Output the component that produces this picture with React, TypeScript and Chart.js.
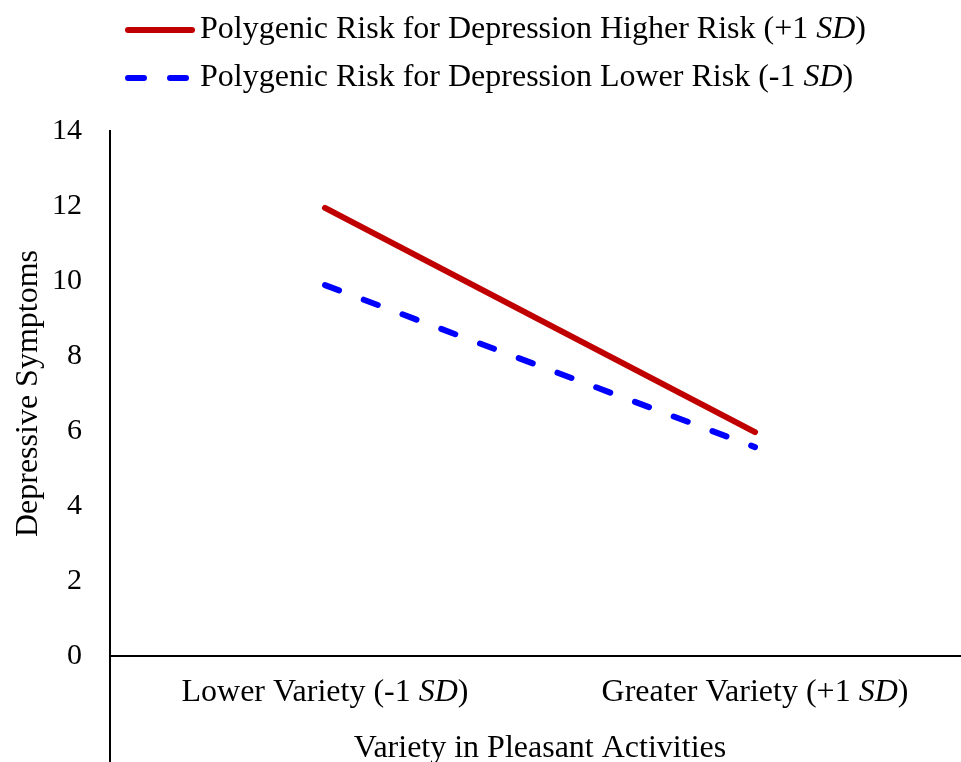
import React, { useEffect, useRef } from "react";
import { Chart, registerables } from "chart.js";

Chart.register(...registerables);

const categories = ["Lower Variety (-1 SD)", "Greater Variety (+1 SD)"];
const higherRisk = [11.95, 5.97];
const lowerRisk = [9.89, 5.57];
const seriesNames = [
  "Polygenic Risk for Depression Higher Risk (+1 SD)",
  "Polygenic Risk for Depression Lower Risk (-1 SD)",
];
const yMin = 0;
const yMax = 14;
const yStep = 2;
const xTitle = "Variety in Pleasant Activities";
const yTitle = "Depressive Symptoms";

const FONT_FAMILY = "'Liberation Serif', 'Times New Roman', serif";
const FONT_SIZE = 32;
const TICK_SIZE = 30;
const RED = "#C00000";
const BLUE = "#0000FF";

function drawRich(ctx: CanvasRenderingContext2D, text: string, x: number, y: number, align: "left" | "center") {
  const parts = text.split(/(SD)/).filter((p) => p.length > 0);
  const fonts = parts.map((p) => (p === "SD" ? `italic ${FONT_SIZE}px ${FONT_FAMILY}` : `${FONT_SIZE}px ${FONT_FAMILY}`));
  let total = 0;
  const widths = parts.map((p, i) => {
    ctx.font = fonts[i];
    const w = ctx.measureText(p).width;
    total += w;
    return w;
  });
  let cx = align === "center" ? x - total / 2 : x;
  ctx.textAlign = "left";
  ctx.textBaseline = "middle";
  ctx.fillStyle = "#000";
  parts.forEach((p, i) => {
    ctx.font = fonts[i];
    ctx.fillText(p, cx, y);
    cx += widths[i];
  });
}

const richPlugin = {
  id: "richText",
  afterDraw(chart: any) {
    const ctx: CanvasRenderingContext2D = chart.ctx;
    const xs = chart.scales.x;
    const area = chart.chartArea;
    ctx.save();
    // y-axis line extension below the horizontal axis
    ctx.strokeStyle = "#000";
    ctx.lineWidth = 2;
    ctx.beginPath();
    ctx.moveTo(area.left, area.bottom);
    ctx.lineTo(area.left, chart.height);
    ctx.stroke();
    // x tick labels with italic SD
    categories.forEach((c, i) => {
      drawRich(ctx, c, xs.getPixelForTick(i), area.bottom + 37, "center");
    });
    // legend
    const ds = chart.data.datasets;
    const rows = [30, 78];
    ds.forEach((d: any, i: number) => {
      const y = rows[i];
      ctx.strokeStyle = d.borderColor;
      ctx.lineWidth = d.borderWidth;
      ctx.lineCap = "round";
      ctx.setLineDash(d.borderDash ? [16, 26] : []);
      ctx.beginPath();
      ctx.moveTo(128, y);
      ctx.lineTo(192, y);
      ctx.stroke();
      ctx.setLineDash([]);
      drawRich(ctx, d.label, 200, y, "left");
    });
    ctx.restore();
  },
};

export default function App() {
  const ref = useRef<HTMLCanvasElement | null>(null);
  useEffect(() => {
    if (!ref.current) return;
    const font = { family: FONT_FAMILY, size: FONT_SIZE };
    const chart = new Chart(ref.current, {
      type: "line",
      data: {
        labels: categories,
        datasets: [
          {
            label: seriesNames[0],
            data: higherRisk,
            borderColor: RED,
            backgroundColor: RED,
            borderWidth: 6,
            borderCapStyle: "round",
            pointRadius: 0,
            tension: 0,
            fill: false,
          },
          {
            label: seriesNames[1],
            data: lowerRisk,
            borderColor: BLUE,
            backgroundColor: BLUE,
            borderWidth: 6,
            borderCapStyle: "round",
            borderDash: [15, 26.4],
            pointRadius: 0,
            tension: 0,
            fill: false,
          },
        ],
      },
      options: {
        responsive: false,
        animation: false,
        layout: { padding: { top: 131, left: 0, right: 0, bottom: 0 } },
        plugins: { legend: { display: false }, tooltip: { enabled: false } },
        scales: {
          x: {
            type: "category",
            offset: true,
            grid: { display: false, drawTicks: false },
            border: { display: true, color: "#000", width: 2 },
            ticks: { display: false },
            title: {
              display: true,
              text: xTitle,
              color: "#000",
              font,
              padding: { top: 0, bottom: 0 },
            },
            afterFit(scale: any) {
              scale.height = 112;
            },
          },
          y: {
            min: yMin,
            max: yMax,
            grid: { display: false, drawTicks: false },
            border: { display: true, color: "#000", width: 2 },
            ticks: { stepSize: yStep, color: "#000", font: { family: FONT_FAMILY, size: TICK_SIZE }, padding: 28 },
            title: {
              display: true,
              text: yTitle,
              color: "#000",
              font,
              padding: { top: 9, bottom: 0 },
            },
            afterFit(scale: any) {
              scale.width = 110;
            },
          },
        },
      },
      plugins: [richPlugin],
    } as any);
    return () => chart.destroy();
  }, []);
  return (
    <div style={{ position: "absolute", left: 0, top: 0, width: 961, height: 762, overflow: "hidden", background: "#fff" }}>
      <canvas ref={ref} width={970} height={768} style={{ display: "block" }} />
    </div>
  );
}
